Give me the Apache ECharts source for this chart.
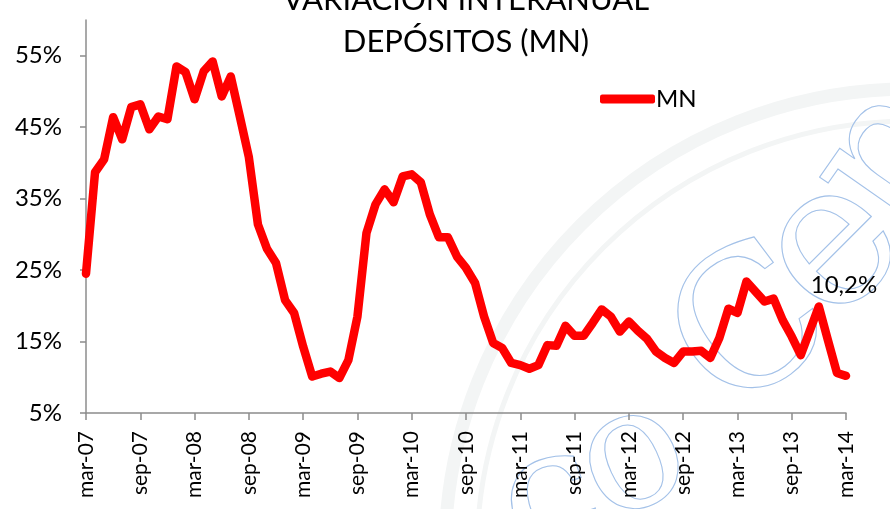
<!DOCTYPE html>
<html>
<head>
<meta charset="utf-8">
<script src="https://cdn.jsdelivr.net/npm/echarts@6/dist/echarts.min.js"></script>
<style>
  html, body { margin: 0; padding: 0; background: #fff; }
  #chart { width: 890px; height: 509px; }
</style>
</head>
<body>
<div id="chart"></div>
<script>
// Variación interanual depósitos (MN), mensual mar-07 .. mar-14

const months = [
    "mar-07","abr-07","may-07","jun-07","jul-07","ago-07","sep-07","oct-07","nov-07","dic-07","ene-08","feb-08",
    "mar-08","abr-08","may-08","jun-08","jul-08","ago-08","sep-08","oct-08","nov-08","dic-08","ene-09","feb-09",
    "mar-09","abr-09","may-09","jun-09","jul-09","ago-09","sep-09","oct-09","nov-09","dic-09","ene-10","feb-10",
    "mar-10","abr-10","may-10","jun-10","jul-10","ago-10","sep-10","oct-10","nov-10","dic-10","ene-11","feb-11",
    "mar-11","abr-11","may-11","jun-11","jul-11","ago-11","sep-11","oct-11","nov-11","dic-11","ene-12","feb-12",
    "mar-12","abr-12","may-12","jun-12","jul-12","ago-12","sep-12","oct-12","nov-12","dic-12","ene-13","feb-13",
    "mar-13","abr-13","may-13","jun-13","jul-13","ago-13","sep-13","oct-13","nov-13","dic-13","ene-14","feb-14",
    "mar-14"
];

const mnValues = [
    24.5, 38.7, 40.5, 46.4, 43.3, 47.8, 48.2, 44.7, 46.5, 46.1, 53.5, 52.7,
    48.9, 52.8, 54.2, 49.3, 52.1, 46.5, 40.8, 31.4, 28.0, 26.0, 20.8, 19.0,
    14.3, 10.1, 10.5, 10.8, 9.9, 12.4, 18.5, 30.2, 34.2, 36.3, 34.5, 38.1,
    38.4, 37.3, 32.8, 29.6, 29.6, 26.9, 25.3, 23.2, 18.5, 14.8, 14.1, 12.0,
    11.7, 11.2, 11.7, 14.5, 14.4, 17.2, 15.8, 15.8, 17.6, 19.5, 18.5, 16.4,
    17.8, 16.5, 15.4, 13.6, 12.7, 12.0, 13.6, 13.6, 13.7, 12.7, 15.5, 19.6,
    19.0, 23.4, 22.0, 20.6, 21.0, 18.0, 15.7, 13.1, 16.5, 19.9, 15.2, 10.6,
    10.2
];

const yTicks = [5, 15, 25, 35, 45, 55];
const lastLabel = "10,2%";

const FONT = "Lato, 'Open Sans', sans-serif";
const chart = echarts.init(document.getElementById("chart"), null, { renderer: "canvas" });

// faint logo watermark behind the plot (rough outline only)
const wmBlue = "#a3c1e8";
const wmGrey = "#f3f5f5";
function wmLetter(ch, x, y, deg, size) {
    return {
        type: "text", z: -9, x, y, rotation: deg * Math.PI / 180,
        style: {
            text: ch, font: size + "px 'DejaVu Serif', serif",
            fill: "rgba(0,0,0,0)", stroke: wmBlue, lineWidth: 1.1,
            align: "center", verticalAlign: "middle"
        }
    };
}
const watermark = [
    { type: "arc", z: -10, shape: { cx: 909, cy: 553, r: 464, startAngle: Math.PI * 1.0, endAngle: Math.PI * 1.55 },
      style: { stroke: wmGrey, lineWidth: 13, fill: "none" } },
    { type: "arc", z: -10, shape: { cx: 909, cy: 553, r: 432, startAngle: Math.PI * 1.0, endAngle: Math.PI * 1.55 },
      style: { stroke: wmGrey, lineWidth: 5, fill: "none" } },
    wmLetter("C", 756, 335, 37, 190),
    wmLetter("e", 835, 250, 45, 200),
    wmLetter("n", 895, 160, 55, 200),
    wmLetter("o", 634, 462, 25, 170),
    wmLetter("c", 552, 505, 20, 170)
];

chart.setOption({
    backgroundColor: "#ffffff",
    animation: false,
    textStyle: { fontFamily: FONT, color: "#000" },
    graphic: watermark,
    title: {
        text: "VARIACIÓN INTERANUAL\nDEPÓSITOS (MN)",
        left: 461,
        textAlign: "center",
        top: -26,
        textStyle: {
            fontFamily: FONT,
            fontSize: 31,
            fontWeight: "normal",
            lineHeight: 42,
            color: "#000"
        }
    },
    legend: {
        left: 600,
        top: 87,
        padding: 0,
        icon: "roundRect",
        itemWidth: 55,
        itemHeight: 9,
        itemGap: 4,
        textStyle: { fontFamily: FONT, fontSize: 24, color: "#000", padding: [0, 0, 0, -4] },
        data: ["MN"]
    },
    grid: { left: 86, right: 44, top: 20, bottom: 96 },
    xAxis: {
        type: "category",
        data: months,
        boundaryGap: false,
        axisLine: { lineStyle: { color: "#8c8c8c", width: 1.5 } },
        axisTick: { interval: 5, length: 7, lineStyle: { color: "#8c8c8c", width: 1.5 } },
        axisLabel: {
            interval: 5,
            rotate: 90,
            fontFamily: FONT,
            fontSize: 21,
            color: "#000",
            margin: 18
        },
        splitLine: { show: false }
    },
    yAxis: {
        type: "value",
        min: 5,
        max: 60,
        axisLine: { show: true, lineStyle: { color: "#8c8c8c", width: 1.5 } },
        axisTick: { show: true, length: 6, customValues: yTicks, lineStyle: { color: "#8c8c8c", width: 1.5 } },
        axisLabel: {
            customValues: yTicks,
            formatter: v => v + "%",
            fontFamily: FONT,
            fontSize: 24,
            color: "#000",
            margin: 24
        },
        splitLine: { show: false }
    },
    series: [
        {
            name: "MN",
            type: "line",
            data: mnValues,
            showSymbol: false,
            symbol: "none",
            lineStyle: { color: "#ff0000", width: 8.5, join: "round", cap: "round" },
            itemStyle: { color: "#ff0000" },
            markPoint: {
                symbol: "circle",
                symbolSize: 0,
                data: [{ coord: [months.length - 1, mnValues[mnValues.length - 1]], value: lastLabel }],
                label: {
                    show: true,
                    formatter: lastLabel,
                    offset: [-2, -91],
                    fontFamily: FONT,
                    fontSize: 24,
                    color: "#000"
                }
            }
        }
    ]
});
</script>
</body>
</html>
